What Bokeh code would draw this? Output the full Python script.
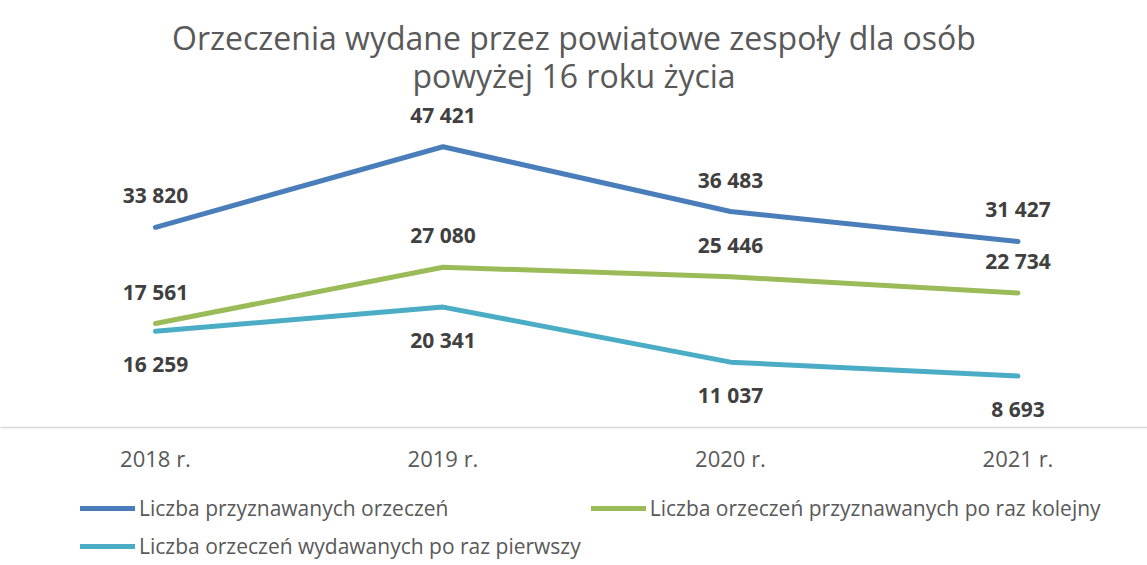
from bokeh.plotting import figure
from bokeh.layouts import column
from bokeh.core.properties import value
from bokeh.models import ColumnDataSource, LabelSet, Label, Legend, LegendItem, FixedTicker, Range1d
from bokeh.embed import file_html
from bokeh.resources import INLINE

years = ["2018 r.", "2019 r.", "2020 r.", "2021 r."]
total = [33820, 47421, 36483, 31427]
repeat = [17561, 27080, 25446, 22734]
first = [16259, 20341, 11037, 8693]
names = ["Liczba przyznawanych orzeczeń",
         "Liczba orzeczeń przyznawanych po raz kolejny",
         "Liczba orzeczeń wydawanych po raz pierwszy"]
colors = ["#4a7ebb", "#9bbb59", "#4bacc6"]
title_lines = ["Orzeczenia wydane przez powiatowe zespoły dla osób", "powyżej 16 roku życia"]

FONT = "Open Sans"
W = 1147


def bare(h):
    f = figure(width=W, height=h, output_backend="svg", toolbar_location=None,
               x_range=Range1d(0, 1), y_range=Range1d(0, 1),
               x_axis_location=None, y_axis_location=None,
               min_border_left=0, min_border_right=0, min_border_top=0, min_border_bottom=0)
    f.outline_line_color = None
    f.grid.visible = False
    return f


# title figure
T = bare(101)
for txt, yc in zip(title_lines, [64, 26]):
    T.add_layout(Label(x=W / 2, y=yc, x_units="screen", y_units="screen", text=txt,
                       text_align="center", text_baseline="middle",
                       text_font=FONT, text_font_size="32px", text_color="#595959"))

# main chart (frame spans 326 px; 296 px correspond to 0..50000)
p = figure(width=W, height=386, output_backend="svg", toolbar_location=None,
           x_range=Range1d(-155 / 287.5, (W - 155) / 287.5),
           y_range=Range1d(0, 50000 * 326 / 296),
           y_axis_location=None, min_border_left=0, min_border_right=0,
           min_border_top=0, min_border_bottom=60)
p.outline_line_color = None
p.grid.visible = False

xs = list(range(len(years)))
offsets = [32, 32, -33]
for vals, col, off in zip([total, repeat, first], colors, offsets):
    src = ColumnDataSource(dict(x=xs, y=vals, lab=[f"{v:,}".replace(",", " ") for v in vals]))
    p.line("x", "y", source=src, line_color=col, line_width=5, line_cap="round", line_join="round")
    p.add_layout(LabelSet(x="x", y="y", text="lab", source=src, y_offset=off, text_align="center",
                          text_baseline="middle", text_font=value(FONT), text_font_size="21px",
                          text_font_style="bold", text_color="#404040"))

ax = p.xaxis[0]
ax.ticker = FixedTicker(ticks=xs)
ax.major_label_overrides = {i: y for i, y in zip(xs, years)}
ax.axis_line_color = "#d9d9d9"
ax.axis_line_width = 1.5
ax.major_tick_line_color = None
ax.minor_tick_line_color = None
ax.major_label_standoff = 9
ax.major_label_text_font = FONT
ax.major_label_text_font_size = "22px"
ax.major_label_text_color = "#595959"

# legend figure
q = bare(78)
lr = [q.line(x=xs, y=vals, line_color=col, line_width=5, line_cap="round")
      for vals, col in zip([total, repeat, first], colors)]
legend = Legend(items=[LegendItem(label=n, renderers=[r]) for n, r in zip(names, lr)],
                orientation="horizontal", ncols=2, location=(80, 5),
                glyph_width=55, glyph_height=20, label_height=20, label_standoff=4,
                spacing=10, padding=0, margin=0, border_line_color=None,
                background_fill_alpha=0, label_text_font=FONT, label_text_font_size="21px",
                label_text_color="#595959")
q.add_layout(legend, "center")

open("out.html", "w").write(file_html(column(T, p, q, spacing=0), INLINE))
